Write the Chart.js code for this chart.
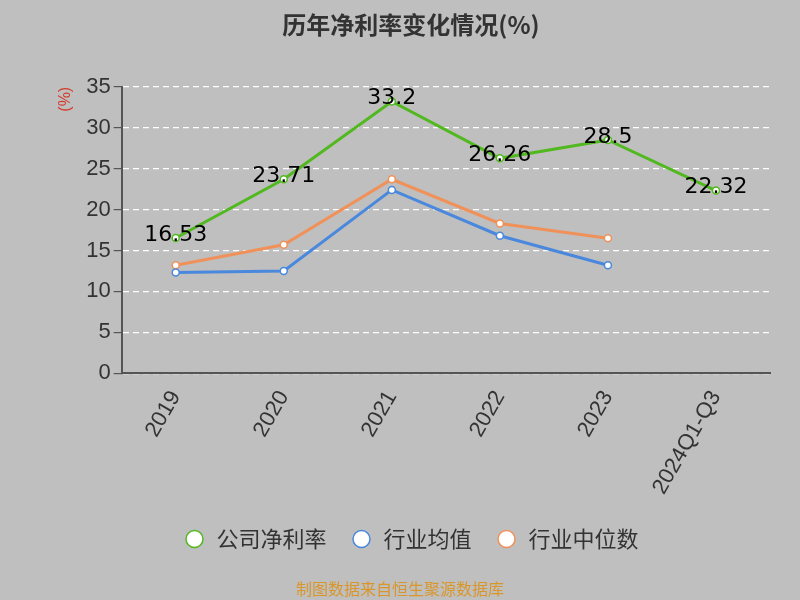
<!DOCTYPE html>
<html>
<head>
<meta charset="utf-8">
<script src="https://cdn.jsdelivr.net/npm/chart.js@4/dist/chart.umd.min.js"></script>
<style>
body { margin: 0; background: #bfbfbf; }
#wrap { width: 800px; height: 600px; position: relative; }
#foot { position: absolute; left: 0; width: 800px; top: 576px; text-align: center; color: #d9962b; font: 16px "Noto Sans CJK SC"; }
</style>
</head>
<body>
<div id="wrap"><canvas id="c" width="800" height="600"></canvas><div id="foot">制图数据来自恒生聚源数据库</div></div>
<script>
const years = ["2019", "2020", "2021", "2022", "2023", "2024Q1-Q3"];
const companyRate = [16.53, 23.71, 33.2, 26.26, 28.5, 22.32];
const industryAvg = [12.3, 12.5, 22.4, 16.8, 13.2, null];
const industryMedian = [13.2, 15.7, 23.7, 18.3, 16.5, null];

const labelPlugin = {
    id: "labels",
    afterDatasetsDraw(chart) {
        const ctx = chart.ctx;
        const meta = chart.getDatasetMeta(0);
        ctx.save();
        ctx.font = "22px 'DejaVu Sans'";
        ctx.fillStyle = "#000";
        ctx.textAlign = "center";
        ctx.textBaseline = "middle";
        meta.data.forEach(function(p, i) {
            ctx.fillText(String(companyRate[i]), p.x, p.y - 3);
        });
        ctx.restore();
    }
};

function ds(label, data, color) {
    return {
        label: label, data: data, borderColor: color, backgroundColor: "#fff",
        borderWidth: 3, pointRadius: 3.5, pointBorderWidth: 1.5, pointBorderColor: color,
        pointBackgroundColor: "#fff", tension: 0, spanGaps: false
    };
}

new Chart(document.getElementById("c"), {
    type: "line",
    data: {
        labels: years,
        datasets: [
            ds("公司净利率", companyRate, "#52b81f"),
            ds("行业均值", industryAvg, "#4a88dd"),
            ds("行业中位数", industryMedian, "#f0915a")
        ]
    },
    options: {
        responsive: false,
        animation: false,
        layout: { padding: { left: 52, right: 30, top: 5, bottom: 40 } },
        plugins: {
            title: { display: true, text: "历年净利率变化情况(%)", color: "#333", font: { size: 24, weight: "bold", family: "Noto Sans CJK SC" }, padding: { top: 5, bottom: 48 } },
            legend: {
                position: "bottom",
                labels: { usePointStyle: true, pointStyle: "circle", boxWidth: 50, boxHeight: 12, padding: 24, color: "#333", font: { size: 22, family: "Noto Sans CJK SC" } }
            },
            tooltip: { enabled: false }
        },
        scales: {
            x: {
                offset: true,
                grid: { display: false, drawTicks: true },
                border: { color: "#555", width: 2 },
                ticks: { maxRotation: 60, minRotation: 60, color: "#333", font: { size: 22 }, padding: 5 }
            },
            y: {
                min: 0, max: 35,
                ticks: { stepSize: 5, color: "#333", font: { size: 22 } },
                grid: { color: "#fff", lineWidth: 1.2, drawTicks: true, tickColor: "#555" },
                border: { dash: [6, 4], color: "#555", width: 2 },
                title: { display: true, text: "(%)", align: "end", color: "#d23b2a", font: { size: 16 }, padding: { bottom: 8 } }
            }
        }
    },
    plugins: [labelPlugin]
});
</script>
</body>
</html>
